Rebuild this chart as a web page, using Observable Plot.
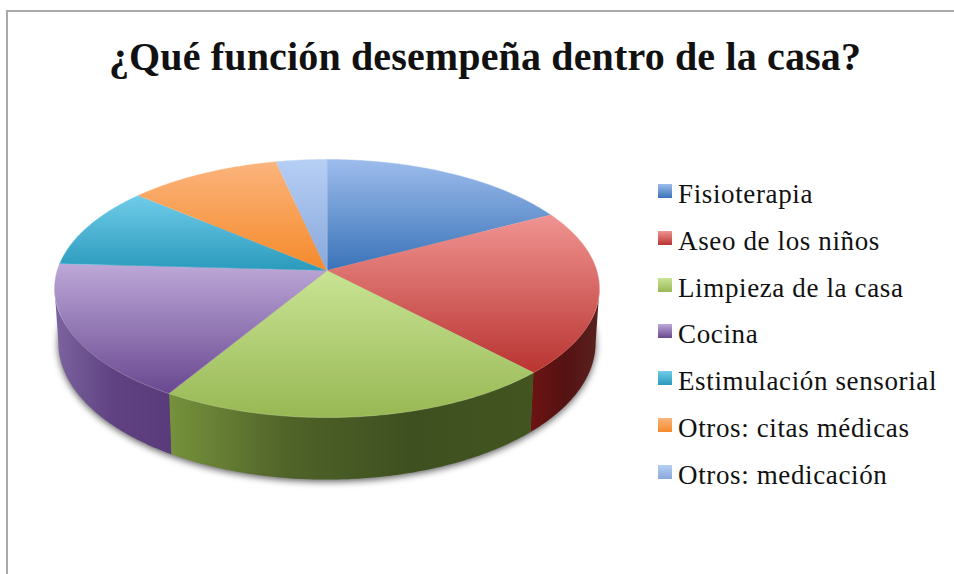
<!DOCTYPE html>
<html lang="es">
<head>
<meta charset="utf-8">
<script src="https://cdn.jsdelivr.net/npm/d3@7"></script>
<script src="https://cdn.jsdelivr.net/npm/@observablehq/plot@0.6"></script>
<style>
  html, body { margin: 0; padding: 0; background: #fff; }
  #page { position: relative; width: 954px; height: 574px; overflow: hidden; font-family: "Liberation Serif", serif; color: #111; }
  #frame { position: absolute; left: 6px; top: 10px; right: -4px; bottom: -4px; border-left: 2px solid #a9a9a9; border-top: 2px solid #a9a9a9; }
  #title { position: absolute; left: 0; width: 970px; top: 35px; margin: 0; text-align: center; font-size: 40px; line-height: 44px; font-weight: bold; letter-spacing: 0.15px; white-space: nowrap; }
  #chart { position: absolute; left: 0; top: 0; }
  .key { position: absolute; left: 658px; height: 30px; white-space: nowrap; }
  .key i { position: absolute; left: 0; top: 0; width: 14px; height: 14px; }
  .key span { position: absolute; left: 20px; top: -5px; font-size: 27px; line-height: 30px; letter-spacing: 0.63px; }
</style>
</head>
<body>
<div id="page">
  <div id="frame"></div>
  <h2 id="title"></h2>
  <div id="chart"></div>
</div>
<script>
const titleText = "¿Qué función desempeña dentro de la casa?";
const categories = ["Fisioterapia", "Aseo de los niños", "Limpieza de la casa", "Cocina", "Estimulación sensorial", "Otros: citas médicas", "Otros: medicación"];
const values = [5, 6, 6, 5, 3, 3, 1];
const lightColors = ["#9dbcec", "#f09491", "#c9e494", "#bda8d8", "#70cce9", "#fbb47c", "#b6cff5"];
const darkColors = ["#3973b8", "#b93431", "#98b854", "#694890", "#2a9abc", "#f58a2a", "#88a7da"];
const wallStops = {
  1: ["#6d1313", "#551212", "#5a2220"],
  2: ["#76923c", "#4f6228", "#3f5020", "#42551f"],
  3: ["#7c64a0", "#604282", "#593a7a"]
};

// Pie camera: the disc is seen in perspective, so its centre sits above the rim ellipse's centre.
const tilt = 0.1395;
const topPlane = {yc: 270, sx: 269.8, sy: 126.5};
const bottomPlane = {yc: 323, sx: 266, sy: 134.3};
const cx = 326.5;

const total = d3.sum(values);
const cumulative = d3.cumsum(values);
const angleEnd = i => (cumulative[i] / total) * 2 * Math.PI;
const angleStart = i => (i === 0 ? 0 : angleEnd(i - 1));

// Project an angle (clockwise from the back of the disc) to unit plot coordinates.
const project = (a, r = 1) => {
  const u = r * Math.sin(a), v = r * Math.cos(a), w = 1 + tilt * v;
  return {x: u / w, y: v / w};
};
// The lower disc is expressed in the top disc's plot coordinates.
const lower = p => ({
  x: p.x * bottomPlane.sx / topPlane.sx,
  y: (p.y * bottomPlane.sy - (bottomPlane.yc - topPlane.yc)) / topPlane.sy
});
const arc = (a0, a1, step = 0.01) => {
  const n = Math.max(2, Math.ceil(Math.abs(a1 - a0) / step));
  return d3.range(n + 1).map(k => project(a0 + (a1 - a0) * k / n));
};

const slicePoints = values.map((_, i) => [{x: 0, y: 0}, ...arc(angleStart(i), angleEnd(i))]);

const wallFrom = Math.acos(-tilt), wallTo = 2 * Math.PI - wallFrom;
const wallPoints = [1, 2, 3].map(i => {
  const a0 = Math.max(angleStart(i), wallFrom), a1 = Math.min(angleEnd(i), wallTo);
  const rim = arc(a0, a1);
  return {i, points: [...rim, ...rim.slice().reverse().map(lower)]};
});
const shadowPoints = arc(0, 2 * Math.PI).map(lower).map(p => ({x: p.x, y: p.y - 0.016}));

const chart = Plot.plot({
  width: 954,
  height: 574,
  margin: 0,
  x: {axis: null, domain: [-1, 1], range: [cx - topPlane.sx, cx + topPlane.sx]},
  y: {axis: null, domain: [-1, 1], range: [topPlane.yc + topPlane.sy, topPlane.yc - topPlane.sy]},
  style: {background: "transparent"},
  marks: [
    Plot.line(shadowPoints, {x: "x", y: "y", curve: "linear-closed", fill: "#333", fillOpacity: 0.8, stroke: "none", imageFilter: "blur(3.5px)"}),
    ...wallPoints.map(w => Plot.line(w.points, {x: "x", y: "y", curve: "linear-closed", fill: `url(#wall${w.i})`, stroke: "none", imageFilter: "blur(0.4px)"})),
    ...slicePoints.map((p, i) => Plot.line(p, {x: "x", y: "y", curve: "linear-closed", fill: `url(#top${i})`, stroke: lightColors[i], strokeWidth: 0.6, strokeOpacity: 0.7, imageFilter: "blur(0.4px)"}))
  ]
});

const defs = d3.create("svg:defs");
const addGradient = (id, vertical, stops) => {
  const g = defs.append("linearGradient").attr("id", id)
    .attr("x1", 0).attr("y1", 0).attr("x2", vertical ? 0 : 1).attr("y2", vertical ? 1 : 0);
  stops.forEach((c, k) => g.append("stop").attr("offset", k / (stops.length - 1)).attr("stop-color", c));
};
values.forEach((_, i) => addGradient(`top${i}`, true, [lightColors[i], darkColors[i]]));
[1, 2, 3].forEach(i => addGradient(`wall${i}`, false, wallStops[i]));
chart.insertBefore(defs.node(), chart.firstChild);
document.getElementById("chart").append(chart);

document.getElementById("title").textContent = titleText;
const page = document.getElementById("page");
categories.forEach((c, i) => {
  const key = document.createElement("div");
  key.className = "key";
  key.style.top = (184 + i * 46.8) + "px";
  const swatch = document.createElement("i");
  swatch.style.background = `linear-gradient(${lightColors[i]}, ${darkColors[i]})`;
  const label = document.createElement("span");
  label.textContent = c;
  key.append(swatch, label);
  page.append(key);
});
</script>
</body>
</html>
